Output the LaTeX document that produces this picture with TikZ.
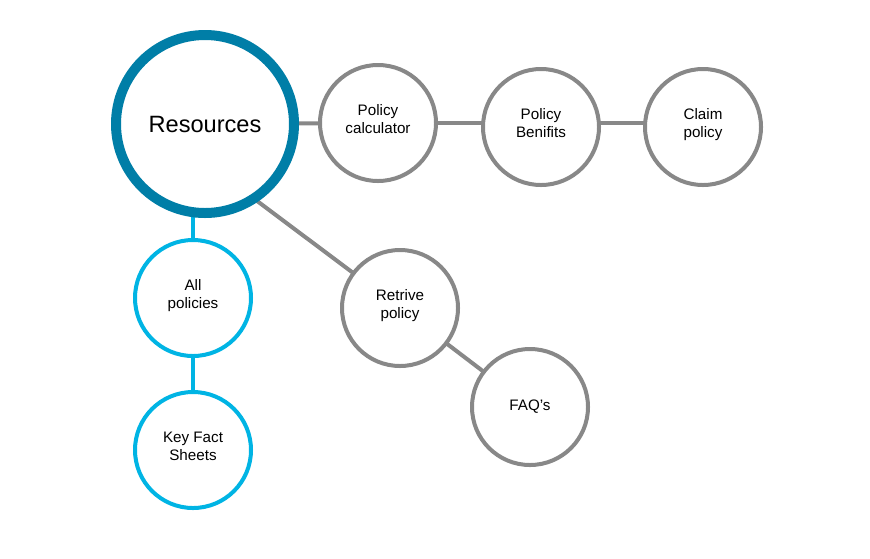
\documentclass[tikz,border=0pt]{standalone}
\usepackage{fontspec}
\setmainfont{Liberation Sans}
\usetikzlibrary{backgrounds,calc}
\definecolor{tealc}{RGB}{0,126,167}
\definecolor{cyanc}{RGB}{0,180,228}
\definecolor{grayc}{RGB}{136,136,136}
\tikzset{
  bigc/.style={circle,draw=tealc,line width=7.5pt,fill=white,minimum size=133.5pt,inner sep=0pt,font=\fontsize{17.7}{20}\selectfont},
  smallc/.style={circle,line width=3pt,fill=white,minimum size=87pt,inner sep=0pt,align=center,font=\fontsize{11.4}{13.5}\selectfont},
  twoline/.style={text height=22pt,text depth=7pt},
  grayn/.style={smallc,draw=grayc},
  cyann/.style={smallc,draw=cyanc},
  glink/.style={draw=grayc,line width=3pt},
  clink/.style={draw=cyanc,line width=3pt}
}
\begin{document}
\begin{tikzpicture}[x=0.75pt,y=-0.75pt]
\useasboundingbox (0,0) rectangle (870,558);
\node[bigc] (res) at (205,124) {Resources};
\node[grayn,twoline] (calc) at (378,123) {Policy\\calculator};
\node[grayn,twoline] (ben) at (541,127) {Policy\\Benifits};
\node[grayn,twoline] (claim) at (703,127) {Claim\\policy};
\node[cyann,twoline] (allp) at (193,298) {All\\policies};
\node[cyann,twoline] (key) at (193,450) {Key Fact\\Sheets};
\node[grayn,twoline] (ret) at (400,308) {Retrive\\policy};
\node[grayn] (faq) at (530,407) {FAQ’s};
\coordinate (resin) at ($(res.center)+(0,38)$);
\begin{scope}[on background layer]
\fill[white] (0,0) rectangle (870,558);
\draw[glink] (res.center) -- (calc.center);
\draw[glink] (calc.center) -- (calc.center -| ben.center);
\draw[glink] (ben.center |- calc.center) -- (claim.center |- calc.center);
\draw[glink] (resin) -- (ret.center);
\draw[glink] (ret.center) -- (faq.center);
\draw[clink] (allp.center |- res.center) -- (allp.center);
\draw[clink] (allp.center) -- (key.center);
\end{scope}
\end{tikzpicture}
\end{document}
